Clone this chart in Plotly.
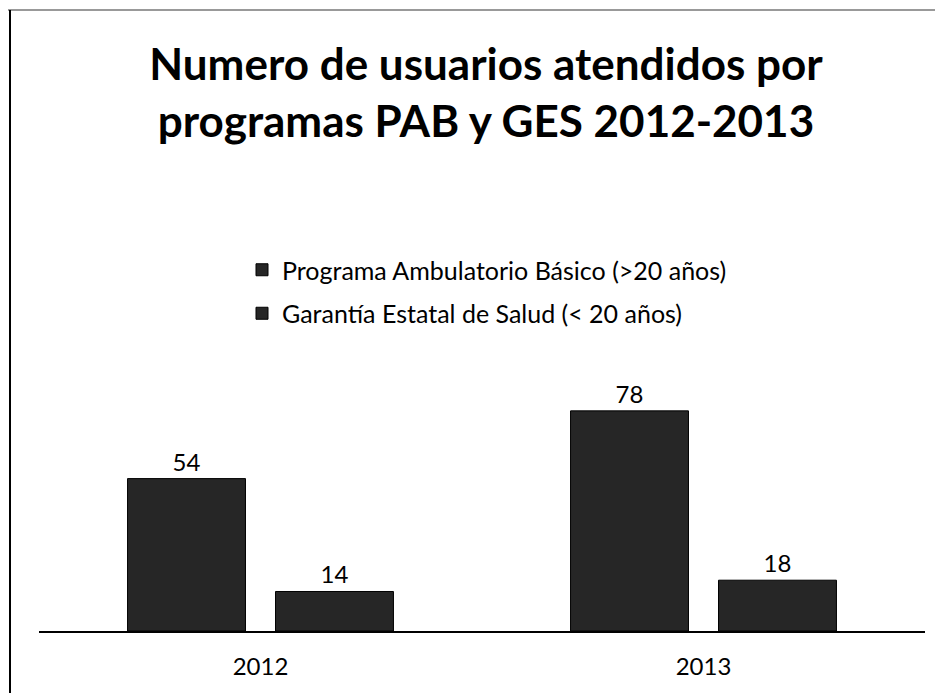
import plotly.graph_objects as go

categories = ["2012", "2013"]
series_names = ["Programa Ambulatorio Básico (>20 años)", "Garantía Estatal de Salud (< 20 años)"]
pab_values = [54, 78]
ges_values = [14, 18]
title_text = "Numero de usuarios atendidos por<br>programas PAB y GES 2012-2013"

FONT = "Lato"
BAR_COLOR = "#262626"

fig = go.Figure()
for name, vals, grp in [(series_names[0], pab_values, "a"), (series_names[1], ges_values, "b")]:
    fig.add_trace(go.Bar(
        x=categories, y=vals, name=name, legendgroup=grp,
        marker=dict(color=BAR_COLOR, line=dict(color="#000000", width=1)),
        text=[str(v) for v in vals], textposition="outside",
        textfont=dict(family=FONT, size=24, color="#000000"),
        cliponaxis=False,
    ))

OFF = 8  # page body margin
W, H = 943 - OFF, 693 - OFF
L, R, T, B = 39 - OFF, 18, 377 - OFF, 62
pw, ph = W - L - R, H - T - B

def px_x(p):  # page pixel -> paper x
    return (p - OFF - L) / pw

def px_y(p):  # page pixel -> paper y
    return (H - B - (p - OFF)) / ph

fig.update_layout(
    width=W, height=H,
    margin=dict(l=L, r=R, t=T, b=B, autoexpand=False),
    paper_bgcolor="white", plot_bgcolor="white",
    barmode="group", bargap=0.332, bargroupgap=0.203,
    showlegend=True,
    title=dict(text=title_text, x=(486 - OFF) / W, xanchor="center", xref="container",
               y=1 - 72 / H, yanchor="top", yref="container",
               font=dict(family=FONT, size=44, color="#000000", weight="bold")),
    legend=dict(x=px_x(242), xanchor="left", y=px_y(247), yanchor="top",
                orientation="v", traceorder="grouped", tracegroupgap=8,
                font=dict(family=FONT, size=25, color="#000000"),
                bgcolor="rgba(0,0,0,0)"),
    xaxis=dict(showline=True, linecolor="#000000", linewidth=2, ticks="",
               ticklabelstandoff=13, showgrid=False, zeroline=False,
               tickfont=dict(family=FONT, size=24, color="#000000"), fixedrange=True),
    yaxis=dict(range=[0, 90], visible=False, showgrid=False, zeroline=False, fixedrange=True),
    shapes=[
        dict(type="line", xref="paper", yref="paper", x0=px_x(7), x1=px_x(943), y0=px_y(10), y1=px_y(10),
             line=dict(color="#777777", width=1.5)),
        dict(type="line", xref="paper", yref="paper", x0=px_x(10), x1=px_x(10), y0=px_y(10), y1=px_y(693),
             line=dict(color="#000000", width=2)),
    ],
)

fig.write_html("out.html")
